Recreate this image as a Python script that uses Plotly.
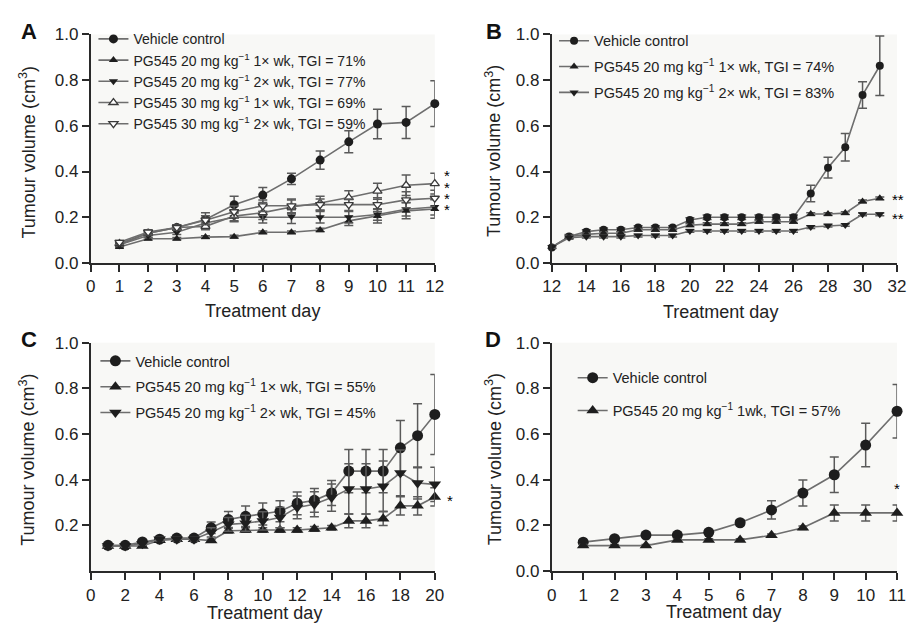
import plotly.graph_objects as go

# page is 917x636; the browser body keeps its default 8px margin,
# so the figure itself is 901x620 and every reference pixel is shifted by 8.
PAGE_W, PAGE_H = 917, 636
OFF = 8
W, H = PAGE_W - 2 * OFF, PAGE_H - 2 * OFF
FONT = "Liberation Sans, Arial, sans-serif"

# ---------------- Panel A ----------------
a_days = list(range(1, 13))
a_veh = [0.08, 0.13, 0.155, 0.19, 0.255, 0.297, 0.368, 0.45, 0.53, 0.608, 0.615, 0.697]
a_veh_err = [0.01, 0.01, 0.012, 0.03, 0.037, 0.033, 0.025, 0.04, 0.048, 0.065, 0.07, 0.10]
a_20_1x = [0.07, 0.106, 0.106, 0.113, 0.115, 0.134, 0.134, 0.144, 0.184, 0.205, 0.228, 0.236]
a_20_1x_err = [0.005, 0.005, 0.005, 0.006, 0.006, 0.006, 0.006, 0.008, 0.02, 0.03, 0.035, 0.04]
a_20_2x = [0.08, 0.12, 0.134, 0.175, 0.20, 0.20, 0.203, 0.20, 0.20, 0.212, 0.235, 0.245]
a_20_2x_err = [0.008, 0.01, 0.01, 0.02, 0.02, 0.025, 0.03, 0.025, 0.025, 0.025, 0.03, 0.035]
a_30_1x = [0.085, 0.13, 0.155, 0.16, 0.205, 0.22, 0.245, 0.262, 0.286, 0.314, 0.34, 0.347]
a_30_1x_err = [0.008, 0.01, 0.01, 0.015, 0.02, 0.03, 0.03, 0.03, 0.03, 0.035, 0.045, 0.045]
a_30_2x = [0.09, 0.135, 0.155, 0.187, 0.224, 0.25, 0.25, 0.255, 0.255, 0.255, 0.276, 0.283]
a_30_2x_err = [0.008, 0.01, 0.01, 0.02, 0.025, 0.025, 0.03, 0.025, 0.025, 0.03, 0.035, 0.035]
a_names = ["Vehicle control",
           "PG545 20 mg kg<sup>−1</sup> 1× wk, TGI = 71%",
           "PG545 20 mg kg<sup>−1</sup> 2× wk, TGI = 77%",
           "PG545 30 mg kg<sup>−1</sup> 1× wk, TGI = 69%",
           "PG545 30 mg kg<sup>−1</sup> 2× wk, TGI = 59%"]
a_sig_y = [0.382, 0.332, 0.283, 0.233]
a_sig_text = ["*", "*", "*", "*"]

# ---------------- Panel B ----------------
b_days = list(range(12, 32))
b_veh = [0.068, 0.116, 0.137, 0.145, 0.145, 0.155, 0.155, 0.155, 0.188, 0.20,
         0.20, 0.20, 0.20, 0.20, 0.20, 0.304, 0.417, 0.506, 0.735, 0.863]
b_veh_err = [0.005, 0.008, 0.008, 0.008, 0.008, 0.008, 0.008, 0.008, 0.01, 0.01,
             0.01, 0.01, 0.01, 0.01, 0.01, 0.036, 0.045, 0.06, 0.058, 0.13]
b_20_1x = [0.07, 0.115, 0.125, 0.13, 0.13, 0.145, 0.145, 0.145, 0.165, 0.17,
           0.17, 0.17, 0.18, 0.18, 0.18, 0.214, 0.214, 0.218, 0.269, 0.283]
b_20_2x = [0.07, 0.11, 0.115, 0.115, 0.115, 0.12, 0.12, 0.12, 0.14, 0.14,
           0.14, 0.14, 0.14, 0.14, 0.14, 0.157, 0.163, 0.166, 0.213, 0.213]
b_small_err = [0.006] * 20
b_names = ["Vehicle control",
           "PG545 20 mg kg<sup>−1</sup> 1× wk, TGI = 74%",
           "PG545 20 mg kg<sup>−1</sup> 2× wk, TGI = 83%"]
b_sig_y = [0.276, 0.194]
b_sig_text = ["**", "**"]

# ---------------- Panel C ----------------
c_days = list(range(1, 21))
c_veh = [0.113, 0.113, 0.128, 0.14, 0.145, 0.145, 0.19, 0.226, 0.24, 0.25,
         0.262, 0.297, 0.31, 0.342, 0.438, 0.438, 0.438, 0.54, 0.593, 0.686]
c_veh_err = [0.005, 0.005, 0.008, 0.008, 0.01, 0.01, 0.025, 0.035, 0.045, 0.048,
             0.046, 0.05, 0.052, 0.055, 0.095, 0.095, 0.095, 0.12, 0.14, 0.175]
c_20_1x = [0.11, 0.11, 0.11, 0.135, 0.14, 0.14, 0.134, 0.177, 0.18, 0.18,
           0.18, 0.18, 0.185, 0.19, 0.22, 0.22, 0.23, 0.286, 0.286, 0.325]
c_20_1x_err = [0.005, 0.005, 0.005, 0.006, 0.006, 0.006, 0.006, 0.01, 0.01, 0.01,
               0.01, 0.01, 0.01, 0.01, 0.03, 0.03, 0.03, 0.04, 0.04, 0.04]
c_20_2x = [0.11, 0.11, 0.12, 0.14, 0.14, 0.14, 0.17, 0.205, 0.21, 0.22,
           0.235, 0.279, 0.293, 0.322, 0.36, 0.36, 0.372, 0.43, 0.386, 0.38]
c_20_2x_err = [0.005, 0.005, 0.006, 0.008, 0.008, 0.008, 0.02, 0.03, 0.035, 0.04,
               0.045, 0.05, 0.055, 0.06, 0.11, 0.11, 0.11, 0.10, 0.07, 0.075]
c_names = ["Vehicle control",
           "PG545 20 mg kg<sup>−1</sup> 1× wk, TGI = 55%",
           "PG545 20 mg kg<sup>−1</sup> 2× wk, TGI = 45%"]
c_sig_y = [0.31]
c_sig_text = ["*"]

# ---------------- Panel D ----------------
d_days = list(range(1, 12))
d_veh = [0.127, 0.142, 0.158, 0.158, 0.17, 0.212, 0.268, 0.342, 0.422, 0.552, 0.70]
d_veh_err = [0.006, 0.006, 0.008, 0.008, 0.01, 0.012, 0.04, 0.057, 0.078, 0.095, 0.117]
d_20_1x = [0.112, 0.112, 0.112, 0.137, 0.137, 0.137, 0.157, 0.19, 0.255, 0.255, 0.255]
d_20_1x_err = [0.005, 0.005, 0.005, 0.005, 0.005, 0.005, 0.006, 0.008, 0.035, 0.035, 0.035]
d_names = ["Vehicle control", "PG545 20 mg kg<sup>−1</sup> 1wk, TGI = 57%"]
d_sig_y = [0.36]
d_sig_text = ["*"]

# ---------------- styling ----------------
LINE_C = "#6e6e6e"
MARK_C = "#1e1e1e"
ERR_C = "#5a5a5a"
AX_C = "#2a2a2a"
TXT_C = "#222222"


def px_x(p):
    return (p - OFF) / W


def px_y(p):
    return 1 - (p - OFF) / H


fig = go.Figure()


def add(days, vals, errs, name, symbol, size, xa, ya, legend, group, open_=False):
    fig.add_trace(go.Scatter(
        x=days, y=vals, name=name, mode="lines+markers",
        xaxis=xa, yaxis=ya, legend=legend, legendgroup=group,
        cliponaxis=False,
        line=dict(color=LINE_C, width=1.6),
        marker=dict(symbol=symbol, size=size,
                    color="white" if open_ else MARK_C,
                    line=dict(color="#3a3a3a" if open_ else MARK_C, width=1.3 if open_ else 0)),
        error_y=dict(type="data", array=errs, visible=True, color=ERR_C,
                     thickness=1.5, width=4.5),
    ))


# A
add(a_days, a_veh, a_veh_err, a_names[0], "circle", 9, "x", "y", "legend", "a0")
add(a_days, a_20_1x, a_20_1x_err, a_names[1], "triangle-up", 8, "x", "y", "legend", "a1")
add(a_days, a_20_2x, a_20_2x_err, a_names[2], "triangle-down", 8, "x", "y", "legend", "a2")
add(a_days, a_30_1x, a_30_1x_err, a_names[3], "triangle-up", 8, "x", "y", "legend", "a3", True)
add(a_days, a_30_2x, a_30_2x_err, a_names[4], "triangle-down", 8, "x", "y", "legend", "a4", True)
# B
add(b_days, b_veh, b_veh_err, b_names[0], "circle", 8, "x2", "y2", "legend2", "b0")
add(b_days, b_20_1x, b_small_err, b_names[1], "triangle-up", 8, "x2", "y2", "legend2", "b1")
add(b_days, b_20_2x, b_small_err, b_names[2], "triangle-down", 8, "x2", "y2", "legend2", "b2")
# C
add(c_days, c_veh, c_veh_err, c_names[0], "circle", 11, "x3", "y3", "legend3", "c0")
add(c_days, c_20_1x, c_20_1x_err, c_names[1], "triangle-up", 11, "x3", "y3", "legend3", "c1")
add(c_days, c_20_2x, c_20_2x_err, c_names[2], "triangle-down", 11, "x3", "y3", "legend3", "c2")
# D
add(d_days, d_veh, d_veh_err, d_names[0], "circle", 11, "x4", "y4", "legend4", "d0")
add(d_days, d_20_1x, d_20_1x_err, d_names[1], "triangle-up", 11, "x4", "y4", "legend4", "d1")

# axes (reference page pixels)
left_dom = [px_x(83.3), px_x(434.3)]
right_dom = [px_x(553.7), px_x(906)]
top_dom = [px_y(261.7), px_y(26)]
bot_dom = [px_y(579.7), px_y(344)]


def xaxis(dom, rng, dtick, anchor):
    return dict(domain=dom, range=rng, dtick=dtick, tick0=rng[0], anchor=anchor,
                showline=True, linecolor=AX_C, linewidth=2, ticks="outside",
                ticklen=7, tickwidth=2, tickcolor=AX_C, showgrid=False, zeroline=False,
                tickfont=dict(size=17, color=TXT_C, family=FONT))


def yaxis(dom, tickvals, anchor):
    return dict(domain=dom, range=[0, 1.0], tickvals=tickvals,
                ticktext=[f"{v:.1f}" for v in tickvals], anchor=anchor,
                showline=True, linecolor=AX_C, linewidth=2, ticks="outside",
                ticklen=7, tickwidth=2, tickcolor=AX_C, showgrid=False, zeroline=False,
                tickfont=dict(size=17, color=TXT_C, family=FONT))


yt_full = [0.0, 0.2, 0.4, 0.6, 0.8, 1.0]
yt_c = [0.2, 0.4, 0.6, 0.8, 1.0]


def legend(xpx, ypx, gap, size=14.5):
    return dict(x=px_x(xpx), y=px_y(ypx), xanchor="left", yanchor="top",
                bgcolor="rgba(0,0,0,0)", borderwidth=0, tracegroupgap=gap,
                font=dict(size=size, color=TXT_C, family=FONT), itemsizing="trace")


annotations = []
# panel letters
for lbl, x, y in [("A", 20, 23), ("B", 495, 23), ("C", 20, 341), ("D", 494, 341)]:
    annotations.append(dict(text=f"<b>{lbl}</b>", x=px_x(x), y=px_y(y), xref="paper", yref="paper",
                            showarrow=False, font=dict(size=22, color="#111111", family=FONT),
                            xanchor="center", yanchor="middle"))
# axis titles
for x, y in [(259, 311), (726, 312), (261, 623), (729, 622)]:
    annotations.append(dict(text="Treatment day", x=px_x(x), y=px_y(y), xref="paper", yref="paper",
                            showarrow=False, font=dict(size=18, color=TXT_C, family=FONT),
                            xanchor="center", yanchor="middle"))
for x, y in [(19, 148), (494, 146), (19, 465), (494, 464)]:
    annotations.append(dict(text="Tumour volume (cm<sup>3</sup>)", x=px_x(x), y=px_y(y),
                            xref="paper", yref="paper", textangle=-90, showarrow=False,
                            font=dict(size=18, color=TXT_C, family=FONT),
                            xanchor="center", yanchor="middle"))
# significance marks
SIG_FONT = dict(size=15, color="#000000", family=FONT)
for yv, t in zip(a_sig_y, a_sig_text):
    annotations.append(dict(text=t, x=a_days[-1], y=yv, xref="x", yref="y", xshift=12,
                            showarrow=False, font=SIG_FONT))
for yv, t in zip(b_sig_y, b_sig_text):
    annotations.append(dict(text=t, x=b_days[-1], y=yv, xref="x2", yref="y2", xshift=18,
                            showarrow=False, font=SIG_FONT))
for yv, t in zip(c_sig_y, c_sig_text):
    annotations.append(dict(text=t, x=c_days[-1], y=yv, xref="x3", yref="y3", xshift=15,
                            showarrow=False, font=SIG_FONT))
for yv, t in zip(d_sig_y, d_sig_text):
    annotations.append(dict(text=t, x=d_days[-1], y=yv, xref="x4", yref="y4", xshift=0,
                            showarrow=False, font=SIG_FONT))

fig.update_layout(
    width=W, height=H, margin=dict(l=0, r=0, t=0, b=0),
    paper_bgcolor="white", plot_bgcolor="#f8f8f6",
    font=dict(family=FONT, color=TXT_C),
    xaxis=xaxis(left_dom, [0, 12], 1, "y"),
    yaxis=yaxis(top_dom, yt_full, "x"),
    xaxis2=xaxis(right_dom, [12, 32], 2, "y2"),
    yaxis2=yaxis(top_dom, yt_full, "x2"),
    xaxis3=xaxis(left_dom, [0, 20], 2, "y3"),
    yaxis3=yaxis(bot_dom, yt_c, "x3"),
    xaxis4=xaxis(right_dom, [0, 11], 1, "y4"),
    yaxis4=yaxis(bot_dom, yt_full, "x4"),
    legend=legend(86, 14.5, 0, 14),
    legend2=legend(556, 16, 4),
    legend3=legend(88, 346.3, 4),
    legend4=legend(575, 363.7, 11),
    annotations=annotations,
    showlegend=True,
)

fig.write_html("out.html", config={"displayModeBar": False})
